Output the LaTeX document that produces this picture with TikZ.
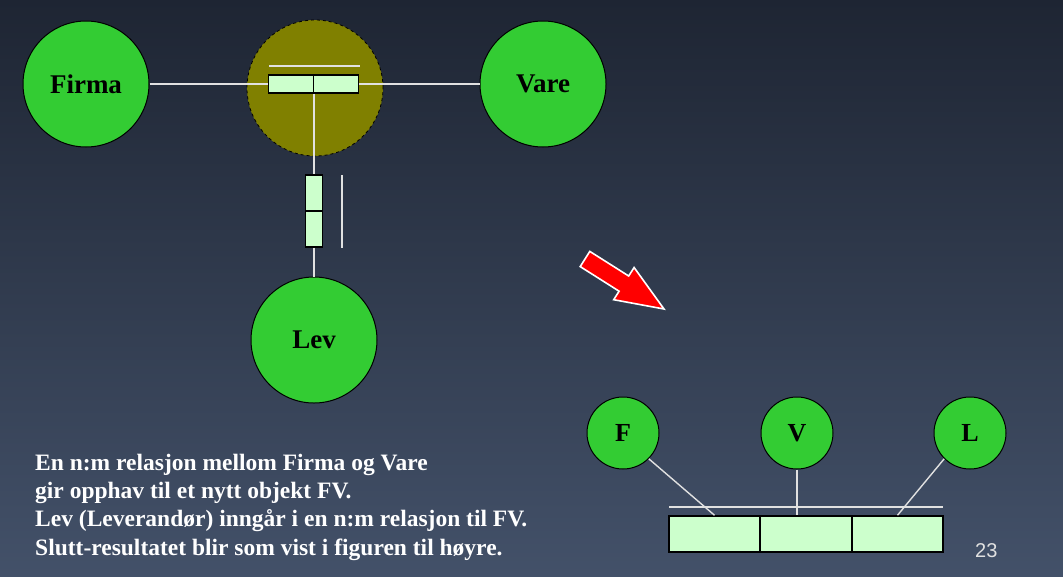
\documentclass[tikz,border=0pt]{standalone}
\usepackage{fontspec}
\setmainfont{Liberation Serif}
\newfontfamily\numfont{Liberation Sans}
\definecolor{bgtop}{RGB}{30,37,51}
\definecolor{bgbot}{RGB}{67,81,105}
\definecolor{entgreen}{RGB}{51,204,51}
\definecolor{boxgreen}{RGB}{204,255,204}
\definecolor{olive}{RGB}{128,128,0}
\definecolor{linegray}{RGB}{225,225,225}
\begin{document}
\begin{tikzpicture}[x=1pt,y=-1pt,
  entity/.style={circle,draw=black,line width=1pt,fill=entgreen,inner sep=0pt,font=\bfseries},
  bigent/.style={entity,minimum size=126pt,font=\fontsize{27}{27}\selectfont\bfseries,text depth=-2pt},
  smallent/.style={entity,minimum size=72pt,font=\fontsize{26}{26}\selectfont\bfseries,text depth=-3pt},
  fieldh/.style={rectangle,draw=black,line width=1.5pt,fill=boxgreen,inner sep=0pt,minimum width=45pt,minimum height=18pt},
  fieldv/.style={rectangle,draw=black,line width=1.5pt,fill=boxgreen,inner sep=0pt,minimum width=17pt,minimum height=36pt},
  fieldr/.style={rectangle,draw=black,line width=1.5pt,fill=boxgreen,inner sep=0pt,minimum width=91pt,minimum height=36pt},
  conn/.style={draw=linegray,line width=1.4pt},
  body/.style={text=white,font=\fontsize{23.5}{28}\selectfont\bfseries,inner sep=0pt,anchor=base west}
]
\useasboundingbox (0,0) rectangle (1063,576);
\shade[top color=bgtop,bottom color=bgbot] (0,0) rectangle (1063,576);

% left diagram
\node[circle,draw=black,dashed,line width=0.8pt,fill=olive,minimum size=136pt,inner sep=0pt] (fv) at (315,88) {};
\node[bigent] (firma) at (86,84) {Firma};
\node[bigent] (vare) at (543,84) {Vare};
\node[bigent] (lev) at (314,340) {Lev};
\node[fieldh] (b1) at (291,84) {};
\node[fieldh] (b2) at (336,84) {};
\node[fieldv] (v1) at (314,193) {};
\node[fieldv] (v2) at (314,229) {};
\coordinate (k1a) at (269,66);
\coordinate (k1b) at (360,66);
\coordinate (k2a) at (342,175);
\coordinate (k2b) at (342,248);
\draw[conn] (firma.east) -- (b1.west);
\draw[conn] (b2.east) -- (vare.west);
\draw[conn] (v1.north |- b1.south) -- (v1.north);
\draw[conn] (v2.south) -- (lev.north);
\draw[conn] (k1a) -- (k1b);
\draw[conn] (k2a) -- (k2b);

% red arrow
\draw[line width=1.6pt,draw=white,fill=red,line join=miter]
  (589.8,251.4) -- (628.7,276.0) -- (634.1,267.5) -- (664,309) -- (613.7,299.7) -- (619.1,291.2) -- (580.2,266.6) -- cycle;

% right diagram
\node[smallent] (f) at (623,433) {F};
\node[smallent] (v) at (797,433) {V};
\node[smallent] (l) at (970,433) {L};
\node[fieldr] (r1) at (714.5,534) {};
\node[fieldr] (r2) at (806,534) {};
\node[fieldr] (r3) at (897.5,534) {};
\coordinate (k3a) at (669,507);
\coordinate (k3b) at (943,507);
\draw[conn] (k3a) -- (k3b);
\draw[conn] (f.south east) -- (r1.north);
\draw[conn] (v.south) -- (v.south |- r2.north);
\draw[conn] (l.south west) -- (r3.north);

% text
\node[body] (t1) at (35,470) {En n:m relasjon mellom Firma og Vare};
\node[body] (t2) at (35,498.3) {gir opphav til et nytt objekt FV.};
\node[body] (t3) at (35,526.7) {Lev (Leverandør) inngår i en n:m relasjon til FV.};
\node[body] (t4) at (35,555) {Slutt-resultatet blir som vist i figuren til høyre.};
\node[text=linegray,font=\numfont\fontsize{20}{20}\selectfont,inner sep=0pt,anchor=base west] (pg) at (975,557) {23};
\end{tikzpicture}
\end{document}
